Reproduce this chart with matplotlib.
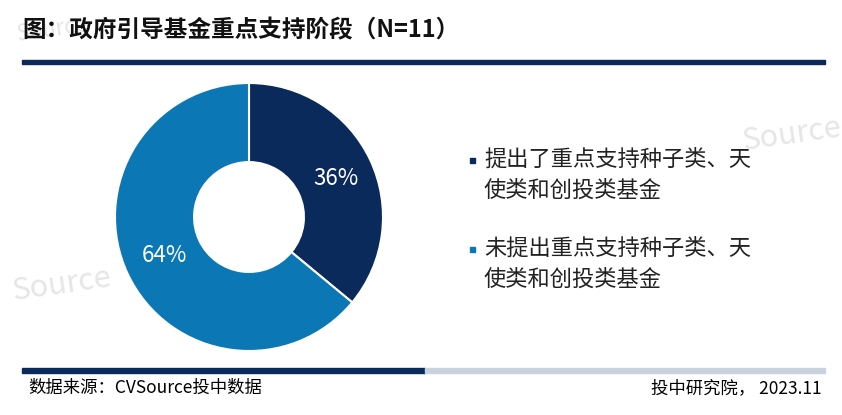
import matplotlib
matplotlib.use("Agg")
import matplotlib.pyplot as plt
from matplotlib.patches import Rectangle

plt.rcParams['font.family'] = ['Noto Sans CJK SC', 'DejaVu Sans']

labels = ["提出了重点支持种子类、天\n使类和创投类基金", "未提出重点支持种子类、天\n使类和创投类基金"]
values = [36, 64]
colors = ["#0b2a5c", "#0b77b5"]

W, H = 842, 415
fig = plt.figure(figsize=(W/100, H/100), dpi=100)

# donut
cx, cy, r = 249, 217, 134
ax = fig.add_axes([(cx-r)/W, 1-(cy+r)/H, 2*r/W, 2*r/H])
wedges, _ = ax.pie(values, colors=colors, startangle=90, counterclock=False,
                   wedgeprops=dict(width=0.59, edgecolor='white', linewidth=1.5))
ax.set_xlim(-1, 1); ax.set_ylim(-1, 1)
ax.set_aspect('equal')
for lab, pos in zip([f"{v}%" for v in values], [(0.65, 0.29), (-0.63, -0.29)]):
    ax.text(pos[0], pos[1], lab, color='white', fontsize=16, ha='center', va='center')

# overlay for text/lines in pixel coordinates
ov = fig.add_axes([0, 0, 1, 1], zorder=-1)
ov.set_xlim(0, W); ov.set_ylim(H, 0); ov.axis('off')
ov.text(22, 30, "图：政府引导基金重点支持阶段（N=11）", fontsize=17, fontweight='bold', va='center', color='#111111')
ov.add_patch(Rectangle((22, 60), 803, 4, color='#0b2a5c'))
ov.add_patch(Rectangle((22, 368), 403, 5, color='#0b2a5c'))
ov.add_patch(Rectangle((425, 368), 400, 5, color='#c9d3e0'))
ov.text(28, 388, "数据来源：CVSource投中数据", fontsize=12.5, va='center')
ov.text(822, 388, "投中研究院， 2023.11", fontsize=12.5, va='center', ha='right')

for (lab, col, y) in zip(labels, colors, [175, 264]):
    ov.add_patch(Rectangle((470, y-17), 5, 5, color=col))
    ov.text(484, y, lab, fontsize=16, va='center', linespacing=1.45, color='#222222')

# faint watermarks
for (x, y, s) in [(15, 30, 16), (740, 135, 22), (10, 285, 22)]:
    ov.text(x, y, "Source", fontsize=s, color='#e6e6e6', va='center', rotation=8, zorder=-2)

fig.savefig("out.png", dpi=100)
